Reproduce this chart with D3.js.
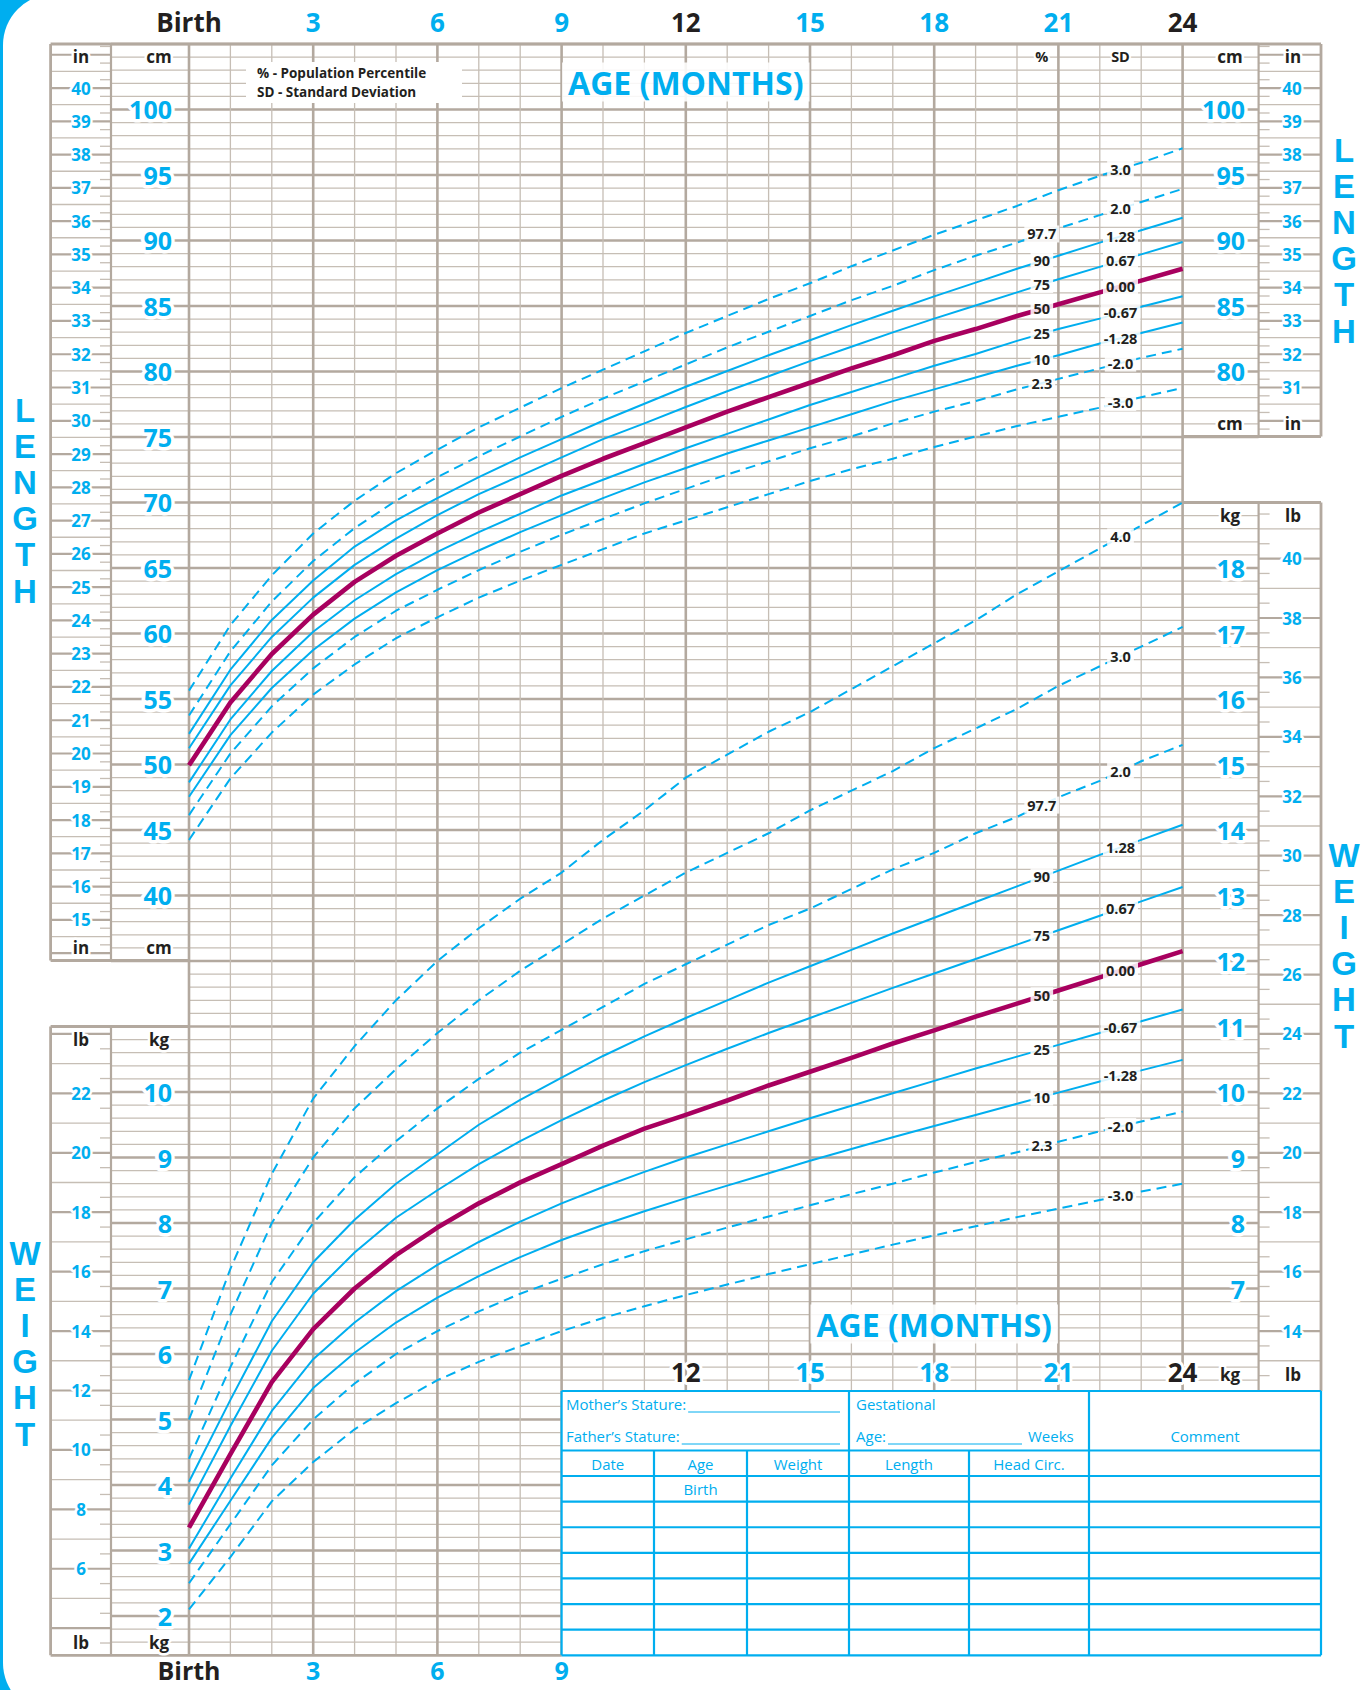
<!DOCTYPE html>
<html>
<head>
<meta charset="utf-8">
<script src="https://cdn.jsdelivr.net/npm/d3@7"></script>
<style>
  body { margin: 0; background: #fff; }
  svg { display: block; font-family: "Open Sans", "Noto Sans", sans-serif; }
  .side { writing-mode: vertical-rl; text-orientation: upright; font-family: "Liberation Sans", Arial, sans-serif; }
</style>
</head>
<body>
<svg id="chart" width="1363" height="1690"></svg>
<script>
// ---- data (WHO boys, birth to 24 months) ----
const months = [0,1,2,3,4,5,6,7,8,9,10,11,12,13,14,15,16,17,18,19,20,21,22,23,24];
const topAgeTicks = ['Birth','3','6','9','12','15','18','21','24'];
const bottomAgeTicks = ['Birth','3','6','9'];
const midAgeTicks = ['12','15','18','21','24'];

// length (cm)
const lenSD3  = [55.6,60.6,64.4,67.6,70.1,72.2,74.0,75.7,77.2,78.7,80.1,81.5,82.9,84.2,85.5,86.7,88.0,89.2,90.4,91.5,92.6,93.8,94.9,95.9,97.0];
const lenSD2  = [53.7,58.6,62.4,65.5,68.0,70.1,71.9,73.5,75.0,76.5,77.9,79.2,80.5,81.8,83.0,84.2,85.4,86.5,87.7,88.8,89.8,90.9,91.9,92.9,93.9];
const lenP90  = [52.3,57.2,61.0,64.0,66.6,68.6,70.3,71.9,73.4,74.8,76.2,77.5,78.8,80.0,81.2,82.35,83.5,84.6,85.7,86.75,87.8,88.8,89.8,90.75,91.7];
const lenP75  = [51.2,56.0,59.7,62.7,65.2,67.2,69.0,70.6,72.0,73.4,74.8,76.0,77.25,78.45,79.6,80.75,81.85,82.95,84.0,85.0,86.0,87.0,87.95,88.9,89.85];
const lenP50  = [49.9,54.7,58.4,61.4,63.9,65.9,67.6,69.2,70.6,72.0,73.3,74.5,75.7,76.9,78.0,79.1,80.2,81.2,82.3,83.2,84.2,85.1,86.0,86.9,87.8];
const lenP25  = [48.6,53.4,57.1,60.1,62.5,64.5,66.2,67.7,69.1,70.5,71.7,72.9,74.1,75.2,76.3,77.4,78.4,79.4,80.4,81.3,82.3,83.2,84.0,84.9,85.7];
const lenP10  = [47.5,52.2,55.8,58.7,61.1,63.1,64.8,66.3,67.7,69.0,70.3,71.5,72.6,73.7,74.7,75.7,76.7,77.7,78.6,79.5,80.4,81.2,82.1,82.9,83.7];
const lenSDm2 = [46.1,50.8,54.4,57.3,59.7,61.7,63.3,64.8,66.2,67.5,68.7,69.9,71.0,72.1,73.1,74.1,75.0,76.0,76.9,77.7,78.6,79.4,80.2,81.0,81.7];
const lenSDm3 = [44.2,48.9,52.4,55.3,57.6,59.6,61.2,62.7,64.0,65.2,66.4,67.6,68.6,69.6,70.6,71.6,72.5,73.3,74.2,75.0,75.8,76.5,77.2,78.0,78.7];

// weight (kg)
const wtSD4  = [5.6,7.3,8.75,9.9,10.7,11.4,12.0,12.5,12.95,13.35,13.85,14.3,14.8,15.15,15.5,15.8,16.15,16.5,16.85,17.2,17.6,17.95,18.3,18.65,19.0];
const wtSD3  = [5.0,6.6,8.0,9.0,9.75,10.35,10.9,11.4,11.85,12.25,12.65,13.0,13.35,13.65,13.95,14.3,14.6,14.9,15.25,15.55,15.85,16.2,16.5,16.8,17.1];
const wtSD2  = [4.4,5.8,7.1,8.0,8.7,9.25,9.75,10.2,10.6,10.95,11.3,11.65,11.95,12.25,12.55,12.8,13.1,13.4,13.65,13.95,14.2,14.5,14.75,15.05,15.3];
const wtP90  = [4.05,5.3,6.5,7.4,8.05,8.6,9.05,9.5,9.88,10.22,10.55,10.85,11.13,11.4,11.67,11.92,12.17,12.42,12.66,12.9,13.14,13.38,13.62,13.85,14.08];
const wtP75  = [3.7,4.9,6.05,6.92,7.55,8.08,8.5,8.9,9.25,9.57,9.87,10.15,10.41,10.66,10.9,11.13,11.36,11.59,11.81,12.03,12.25,12.47,12.69,12.91,13.13];
const wtP50  = [3.35,4.47,5.57,6.38,7.0,7.51,7.93,8.3,8.62,8.9,9.18,9.44,9.65,9.87,10.1,10.31,10.52,10.74,10.94,11.15,11.35,11.55,11.75,11.95,12.15];
const wtP25  = [3.03,4.1,5.13,5.92,6.48,6.96,7.36,7.71,8.02,8.3,8.55,8.78,9.0,9.2,9.4,9.6,9.79,9.98,10.17,10.36,10.54,10.72,10.9,11.08,11.26];
const wtP10  = [2.8,3.76,4.72,5.48,6.02,6.48,6.86,7.19,7.48,7.74,7.97,8.18,8.38,8.57,8.76,8.95,9.13,9.31,9.48,9.65,9.82,9.99,10.16,10.33,10.49];
const wtSDm2 = [2.5,3.4,4.3,5.0,5.55,6.0,6.35,6.65,6.92,7.15,7.37,7.57,7.75,7.93,8.1,8.27,8.44,8.6,8.77,8.93,9.08,9.24,9.4,9.55,9.7];
const wtSDm3 = [2.1,2.9,3.75,4.35,4.85,5.25,5.6,5.88,6.12,6.35,6.55,6.73,6.9,7.06,7.22,7.37,7.52,7.67,7.81,7.95,8.09,8.22,8.35,8.48,8.6];

const lenSdLabels  = ['3.0','2.0','1.28','0.67','0.00','-0.67','-1.28','-2.0','-3.0'];
const lenPctLabels = [null,'97.7','90','75','50','25','10','2.3',null];
const wtSdLabels   = ['4.0','3.0','2.0','1.28','0.67','0.00','-0.67','-1.28','-2.0','-3.0'];
const wtPctLabels  = [null,null,'97.7','90','75','50','25','10','2.3',null];

const cmLabels = [100,95,90,85,80,75,70,65,60,55,50,45,40];
const cmLabelsRight = [100,95,90,85,80];
const inLabels = d3.range(40, 14, -1);
const inLabelsRight = d3.range(40, 30, -1);
const kgLabels = [10,9,8,7,6,5,4,3,2];
const kgLabelsRight = [18,17,16,15,14,13,12,11,10,9,8,7];
const lbLabels = [22,20,18,16,14,12,10,8,6];
const lbLabelsRight = [40,38,36,34,32,30,28,26,24,22,20,18,16,14];

const tableHeaders = ['Date','Age','Weight','Length','Head Circ.'];

// ---- styling ----
const BLUE = '#00aeef', DARK = '#231f20', MAG = '#a8005f';
const GRID = '#c6beb5', GRID_DARK = '#b3a99f';
const CM_PER_IN = 2.54, KG_PER_LB = 0.45359;

const svg = d3.select('#chart');

let x   = d3.scaleLinear().domain([0, 24]).range([189, 1182.6]);
let yCm = d3.scaleLinear().domain([100, 40]).range([109, 895]);
let yKg = d3.scaleLinear().domain([2, 10]).range([1616, 1092]);

const X_IN_L = 50.6, X_DIV_L = 111, X_CHART_L = x(0), X_CHART_R = x(24), X_DIV_R = 1258.6, X_OUT_R = 1321;
const Y_TOP = yKg(26), Y_BOT = yKg(1.4);
const TABLE_TOP = 1391;

function halo(sel, w) {
  return sel.attr('paint-order', 'stroke').attr('stroke', '#fff')
    .attr('stroke-width', w || 6).attr('stroke-linejoin', 'round');
}
function line(g, x1, y1, x2, y2, color, w) {
  return g.append('line').attr('x1', x1).attr('y1', y1).attr('x2', x2).attr('y2', y2)
    .attr('stroke', color).attr('stroke-width', w);
}
function valueAt(vals, m) {
  let i = Math.floor(m), t = m - i;
  return vals[i] * (1 - t) + vals[i + 1] * t;
}

// blue rounded corner on the left
svg.append('rect').attr('x', 0).attr('y', 0).attr('width', 60).attr('height', 1690).attr('fill', BLUE);
svg.append('rect').attr('x', 3).attr('y', -6).attr('width', 1420).attr('height', 1720).attr('rx', 51).attr('fill', '#fff');

// ---- grid ----
let grid = svg.append('g').attr('class', 'grid');

const rows = d3.range(7, 131).map(i => i / 5); // every 0.2 kg (= 1 cm)
const near = (a, b) => Math.abs(a - b) < 1e-6;
for (let k of rows) {
  let thick = near(k, Math.round(k));
  let left = X_CHART_L, right = X_CHART_R;
  if ((k >= 12 - 1e-6) || (k <= 11 + 1e-6)) left = X_DIV_L;
  if ((k >= 20 - 1e-6) || (k >= 5.4 - 1e-6 && k <= 19 + 1e-6)) right = X_DIV_R;
  line(grid, left, yKg(k), right, yKg(k), thick ? GRID_DARK : GRID, thick ? 2.6 : 1.3);
}
for (let m of months) {
  let thick = m % 3 === 0;
  line(grid, x(m), Y_TOP, x(m), Y_BOT, thick ? GRID_DARK : GRID, thick ? 2.6 : 1.3);
}

// inch columns
function inchColumn(xa, xb, cmLo, cmHi, tickSide) {
  let lo = cmLo / CM_PER_IN, hi = cmHi / CM_PER_IN;
  for (let q = Math.ceil(lo * 4); q <= Math.floor(hi * 4); q++) {
    let v = q / 4, y = yCm(v * CM_PER_IN);
    if (q % 4 === 0) line(grid, xa, y, xb, y, GRID_DARK, 2.2);
    else if (q % 2 === 0) line(grid, xa, y, xb, y, GRID, 1.3);
    else if (tickSide === 'right') line(grid, xb - 11, y, xb, y, GRID, 1.3);
    else line(grid, xa, y, xa + 11, y, GRID, 1.3);
  }
}
function lbColumn(xa, xb, kgLo, kgHi, tickSide) {
  let lo = kgLo / KG_PER_LB, hi = kgHi / KG_PER_LB;
  for (let h = Math.ceil(lo * 2); h <= Math.floor(hi * 2); h++) {
    let v = h / 2, y = yKg(v * KG_PER_LB);
    if (h % 4 === 0) line(grid, xa, y, xb, y, GRID_DARK, 2.2);
    else if (h % 2 === 0) line(grid, xa, y, xb, y, GRID, 1.3);
    else if (tickSide === 'right') line(grid, xb - 11, y, xb, y, GRID, 1.3);
    else line(grid, xa, y, xa + 11, y, GRID, 1.3);
  }
}
inchColumn(X_IN_L, X_DIV_L, 35.2, 104.8, 'right');
inchColumn(X_DIV_R, X_OUT_R, 75.2, 104.8, 'left');
lbColumn(X_IN_L, X_DIV_L, 1.45, 10.95, 'right');
lbColumn(X_DIV_R, X_OUT_R, 5.45, 18.95, 'left');

// frames
let frame = svg.append('g').attr('class', 'frame');
const FW = 2.8;
line(frame, X_IN_L, Y_TOP, X_OUT_R, Y_TOP, GRID_DARK, FW);
// left length box
line(frame, X_IN_L, Y_TOP, X_IN_L, yCm(35), GRID_DARK, FW);
line(frame, X_IN_L, yCm(35), X_CHART_L, yCm(35), GRID_DARK, FW);
line(frame, X_DIV_L, Y_TOP, X_DIV_L, yCm(35), GRID_DARK, 2.2);
// left weight box
line(frame, X_IN_L, yKg(11), X_IN_L, Y_BOT, GRID_DARK, FW);
line(frame, X_IN_L, yKg(11), X_CHART_L, yKg(11), GRID_DARK, FW);
line(frame, X_IN_L, Y_BOT, x(9), Y_BOT, GRID_DARK, FW);
line(frame, X_DIV_L, yKg(11), X_DIV_L, Y_BOT, GRID_DARK, 2.2);
// right length box
line(frame, X_OUT_R, Y_TOP, X_OUT_R, yCm(75), GRID_DARK, FW);
line(frame, X_CHART_R, yCm(75), X_OUT_R, yCm(75), GRID_DARK, FW);
line(frame, X_DIV_R, Y_TOP, X_DIV_R, yCm(75), GRID_DARK, 2.2);
// right weight box
line(frame, X_CHART_R, yKg(19), X_OUT_R, yKg(19), GRID_DARK, FW);
line(frame, X_OUT_R, yKg(19), X_OUT_R, TABLE_TOP, GRID_DARK, FW);
line(frame, X_DIV_R, yKg(19), X_DIV_R, TABLE_TOP, GRID_DARK, 2.2);

// ---- curves ----
const lenSeries = [lenSD3, lenSD2, lenP90, lenP75, lenP50, lenP25, lenP10, lenSDm2, lenSDm3];
const wtSeries  = [wtSD4, wtSD3, wtSD2, wtP90, wtP75, wtP50, wtP25, wtP10, wtSDm2, wtSDm3];

function styleFor(sd) {
  let v = Math.abs(parseFloat(sd));
  if (v === 0) return {color: MAG, width: 4.6, dash: null};
  if (v >= 2) return {color: BLUE, width: 2, dash: '10,6'};
  return {color: BLUE, width: 2, dash: null};
}

let curves = svg.append('g').attr('class', 'curves');
let labels = svg.append('g').attr('class', 'curve-labels');

function drawCurves(series, sdLabels, pctLabels, yScale) {
  let gen = d3.line().x((d, i) => x(months[i])).y(d => yScale(d));
  series.forEach((vals, i) => {
    let st = styleFor(sdLabels[i]);
    curves.append('path').attr('d', gen(vals)).attr('fill', 'none')
      .attr('stroke', st.color).attr('stroke-width', st.width)
      .attr('stroke-dasharray', st.dash).attr('stroke-linejoin', 'round');
  });
  series.forEach((vals, i) => {
    curveLabel(sdLabels[i], 22.5, yScale(valueAt(vals, 22.5)));
    if (pctLabels[i]) curveLabel(pctLabels[i], 20.6, yScale(valueAt(vals, 20.6)));
  });
}
function curveLabel(txt, m, y) {
  let g = labels.append('g');
  let t = g.append('text').attr('x', x(m)).attr('y', y).attr('text-anchor', 'middle')
    .attr('dominant-baseline', 'central').attr('font-size', 14.5).attr('font-weight', 700)
    .attr('fill', DARK).text(txt);
  let b = t.node().getBBox();
  g.insert('rect', 'text').attr('x', b.x - 3).attr('y', b.y + 1).attr('width', b.width + 6)
    .attr('height', b.height - 2).attr('fill', '#fff').attr('opacity', 0.85);
}

drawCurves(lenSeries, lenSdLabels, lenPctLabels, yCm);
drawCurves(wtSeries, wtSdLabels, wtPctLabels, yKg);

// ---- axis labels ----
let ax = svg.append('g').attr('class', 'axes');

function label(txt, xx, yy, opts) {
  let t = ax.append('text').attr('x', xx).attr('y', yy)
    .attr('text-anchor', opts.anchor || 'middle').attr('dominant-baseline', 'central')
    .attr('font-size', opts.size).attr('font-weight', opts.weight || 700)
    .attr('fill', opts.color || BLUE).text(txt);
  if (opts.halo) halo(t, opts.halo);
  return t;
}

// vertical scale labels
cmLabels.forEach(v => label(v, 172, yCm(v), {size: 25, anchor: 'end', halo: 7}));
cmLabelsRight.forEach(v => label(v, 1245, yCm(v), {size: 25, anchor: 'end', halo: 7}));
inLabels.forEach(v => label(v, 81, yCm(v * CM_PER_IN), {size: 17, halo: 5}));
inLabelsRight.forEach(v => label(v, 1292, yCm(v * CM_PER_IN), {size: 17, halo: 5}));
kgLabels.forEach(v => label(v, 172, yKg(v), {size: 25, anchor: 'end', halo: 7}));
kgLabelsRight.forEach(v => label(v, 1245, yKg(v), {size: 25, anchor: 'end', halo: 7}));
lbLabels.forEach(v => label(v, 81, yKg(v * KG_PER_LB), {size: 17, halo: 5}));
lbLabelsRight.forEach(v => label(v, 1292, yKg(v * KG_PER_LB), {size: 17, halo: 5}));

// unit headers / footers
const unitOpts = {size: 17, color: DARK, halo: 5};
[[yCm(104), 'in', 'cm'], [yCm(36), 'in', 'cm'], [yKg(10.8), 'lb', 'kg'], [yKg(1.6), 'lb', 'kg']]
  .forEach(([yy, a, b]) => { label(a, 81, yy, unitOpts); label(b, 159, yy, unitOpts); });
[[yCm(104), 'cm', 'in'], [yCm(76), 'cm', 'in'], [yKg(18.8), 'kg', 'lb'], [1374, 'kg', 'lb']]
  .forEach(([yy, a, b]) => { label(a, 1230, yy, unitOpts); label(b, 1293, yy, unitOpts); });

label('%', x(20.6), yCm(104), {size: 14.5, color: DARK, halo: 4});
label('SD', x(22.5), yCm(104), {size: 14.5, color: DARK, halo: 4});

// age labels
const darkAges = ['Birth', '12', '24'];
const ageVal = t => t === 'Birth' ? 0 : +t;
topAgeTicks.forEach(t => label(t, x(ageVal(t)), 22, {size: 26, color: darkAges.includes(t) ? DARK : BLUE}));
bottomAgeTicks.forEach(t => label(t, x(ageVal(t)), 1670, {size: 25, color: darkAges.includes(t) ? DARK : BLUE}));
midAgeTicks.forEach(t => label(t, x(ageVal(t)), 1372, {size: 26, color: darkAges.includes(t) ? DARK : BLUE, halo: 6}));

function boxedTitle(txt, xx, yy) {
  let t = label(txt, xx, yy, {size: 32});
  let b = t.node().getBBox();
  ax.insert('rect', () => t.node()).attr('x', b.x - 6).attr('y', b.y + 2).attr('width', b.width + 12)
    .attr('height', b.height - 4).attr('fill', '#fff').attr('opacity', 0.88);
}
boxedTitle('AGE (MONTHS)', x(12), 82);
boxedTitle('AGE (MONTHS)', x(18), 1324);

// legend
ax.append('rect').attr('x', 246).attr('y', 62).attr('width', 216).attr('height', 41).attr('fill', '#fff');
label('% - Population Percentile', 257, 73, {size: 13.5, anchor: 'start', color: DARK});
label('SD - Standard Deviation', 257, 92, {size: 13.5, anchor: 'start', color: DARK});

// big side letters, written vertically as one word
function stacked(word, xx, y0) {
  ax.append('text').attr('class', 'side').attr('x', xx).attr('y', y0 - 18)
    .attr('font-size', 33).attr('font-weight', 700).attr('fill', BLUE)
    .attr('letter-spacing', -0.9).text(word);
}
stacked('LENGTH', 25, 410);
stacked('WEIGHT', 25, 1253);
stacked('LENGTH', 1344, 150);
stacked('WEIGHT', 1344, 855);

// ---- record table ----
let tb = svg.append('g').attr('class', 'table');
const TL = x(9), TR = X_OUT_R, TB = Y_BOT;
const colX = [TL, 654, 747, 849, 969, 1089, TR];
const rowTop = 1450.5, headBot = 1476;
const rowH = (TB - headBot) / 7;
tb.append('rect').attr('x', TL).attr('y', TABLE_TOP).attr('width', TR - TL).attr('height', TB - TABLE_TOP).attr('fill', '#fff');
const TW = 2.2;
[TABLE_TOP, rowTop, headBot].concat(d3.range(1, 8).map(i => headBot + i * rowH))
  .forEach(yy => line(tb, TL, yy, TR, yy, BLUE, TW));
[TL, colX[3], colX[5], TR].forEach(xx => line(tb, xx, TABLE_TOP, xx, TB, BLUE, TW));
[colX[1], colX[2], colX[4]].forEach(xx => line(tb, xx, rowTop, xx, TB, BLUE, TW));

function tText(txt, xx, yy, anchor) {
  return tb.append('text').attr('x', xx).attr('y', yy).attr('text-anchor', anchor || 'middle')
    .attr('dominant-baseline', 'central').attr('font-size', 15).attr('fill', BLUE).text(txt);
}
function underline(t, x2, pad) {
  let b = t.node().getBBox();
  line(tb, b.x + b.width + (pad || 2), b.y + b.height - 2, x2, b.y + b.height - 2, BLUE, 1);
}
underline(tText('Mother\u2019s Stature:', 566, 1404, 'start'), 840);
underline(tText('Father\u2019s Stature:', 566, 1436, 'start'), 840);
tText('Gestational', 856, 1404, 'start');
underline(tText('Age:', 856, 1436, 'start'), 1022);
tText('Weeks', 1028, 1436, 'start');
tText('Comment', (colX[5] + TR) / 2, 1436);
tableHeaders.forEach((h, i) => tText(h, (colX[i] + colX[i + 1]) / 2, (rowTop + headBot) / 2 + 1));
tText('Birth', (colX[1] + colX[2]) / 2, headBot + rowH / 2);
</script>
</body>
</html>
